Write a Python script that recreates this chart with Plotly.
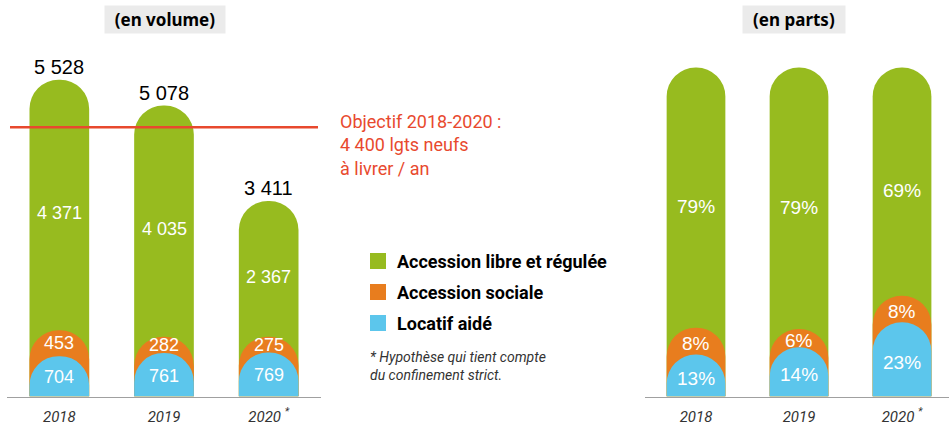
import plotly.graph_objects as go

# données (logements livrés)
annees = ["2018", "2019", "2020 <sup>*</sup>"]
locatif_aide = [704, 761, 769]
accession_sociale = [453, 282, 275]
accession_libre = [4371, 4035, 2367]

# parts affichées (en %)
parts_locatif = ["13%", "14%", "23%"]
parts_sociale = ["8%", "6%", "8%"]
parts_libre = ["79%", "79%", "69%"]

objectif_ligne = 4700  # position de la ligne rouge telle que dessinée

VERT = "#97BB1F"
ORANGE = "#E87D1E"
BLEU = "#5CC6EC"
ROUGE = "#E8492E"

NARROW = "Roboto, sans-serif"
ARIAL = "Liberation Sans, Arial, sans-serif"


def esp(v):
    return f"{v:,}".replace(",", " ")


totaux = [a + b + c for a, b, c in zip(locatif_aide, accession_sociale, accession_libre)]
cum_sociale = [a + b for a, b in zip(locatif_aide, accession_sociale)]

# parts calculées pour la hauteur des barres de droite
p_loc = [a / t * 100 for a, t in zip(locatif_aide, totaux)]
p_soc = [(a + b) / t * 100 for a, b, t in zip(locatif_aide, accession_sociale, totaux)]
p_tot = [100, 100, 100]

fig = go.Figure()

# une paire d'axes par couleur pour que chaque barre garde son arrondi
for axes, ya, vals in [(["x", "x3", "x4"], "y", [totaux, cum_sociale, locatif_aide]),
                       (["x2", "x5", "x6"], "y2", [p_tot, p_soc, p_loc])]:
    for xa, v, col in zip(axes, vals, [VERT, ORANGE, BLEU]):
        fig.add_trace(go.Bar(x=annees, y=v, xaxis=xa, yaxis=ya,
                             marker=dict(color=col, cornerradius="50%", line_width=0),
                             showlegend=False, hoverinfo="skip"))

annots = []
for i in range(len(annees)):
    # étiquettes volume
    base = [0, locatif_aide[i], cum_sociale[i]]
    vals = [locatif_aide[i], accession_sociale[i], accession_libre[i]]
    for b, v, dy in zip(base, vals, [-1, 0, -8]):
        annots.append(dict(x=i, y=b + v / 2, xref="x", yref="y", text=esp(v), yshift=dy,
                           showarrow=False, font=dict(family=ARIAL, size=18, color="white")))
    annots.append(dict(x=i, y=totaux[i], xref="x", yref="y", text=esp(totaux[i]),
                       yanchor="bottom", showarrow=False,
                       font=dict(family=ARIAL, size=20, color="black")))
    # étiquettes parts
    pb = [0, p_loc[i], p_soc[i]]
    ph = [p_loc[i], p_soc[i] - p_loc[i], 100 - p_soc[i]]
    pl = [parts_locatif[i], parts_sociale[i], parts_libre[i]]
    for b, h, t, dy in zip(pb, ph, pl, [-3, -2, -9]):
        annots.append(dict(x=i, y=b + h / 2, xref="x2", yref="y2", text=t, yshift=dy,
                           showarrow=False, font=dict(family=ARIAL, size=19, color="white")))

# titres des panneaux
for txt, xc, w in [("(en volume)", 165 / 949, 114), ("(en parts)", 794 / 949, 96)]:
    annots.append(dict(x=xc, y=1 - 19.5 / 425, xref="paper", yref="paper", text=f"<b>{txt}</b>",
                       xanchor="center", yanchor="middle", width=w, height=21,
                       showarrow=False, bgcolor="#EBEBEB", borderpad=3,
                       font=dict(family="Noto Sans, sans-serif", size=17, color="black")))

# objectif
annots.append(dict(x=338 / 949, y=1 - 109 / 425, xref="paper", yref="paper", xanchor="left",
                   yanchor="top", align="left", showarrow=False,
                   text="Objectif 2018-2020 :<br>4 400 lgts neufs<br>à livrer / an",
                   font=dict(family=NARROW, size=18, color=ROUGE)))

# légende
shapes = []
leg = [("Accession libre et régulée", VERT, 261), ("Accession sociale", ORANGE, 292),
       ("Locatif aidé", BLEU, 323)]
for txt, col, yc in leg:
    shapes.append(dict(type="rect", xref="paper", yref="paper", x0=370 / 949, x1=386 / 949,
                       y0=1 - (yc + 8) / 425, y1=1 - (yc - 8) / 425, fillcolor=col, line_width=0))
    annots.append(dict(x=395 / 949, y=1 - yc / 425, xref="paper", yref="paper",
                       xanchor="left", yanchor="middle",
                       showarrow=False, text=f"<b>{txt}</b>",
                       font=dict(family=NARROW, size=18, color="black")))

annots.append(dict(x=368 / 949, y=1 - 347 / 425, xref="paper", yref="paper", xanchor="left",
                   yanchor="top", align="left", showarrow=False,
                   text="<i>* Hypothèse qui tient compte<br>du confinement strict.</i>",
                   font=dict(family=NARROW, size=14, color="#333333")))

shapes.append(dict(type="line", xref="paper", yref="y", x0=10 / 949, x1=318 / 949,
                   y0=objectif_ligne, y1=objectif_ligne, line=dict(color=ROUGE, width=2.5)))

axe_x = dict(type="category", showline=True, linecolor="#A0A0A0", linewidth=1.2,
             showgrid=False, zeroline=False, ticks="", ticklabelstandoff=6,
             tickfont=dict(family=NARROW, size=15, color="#333333", style="italic"))
axe_cache = dict(type="category", visible=False, showgrid=False, zeroline=False)
axe_y = dict(showgrid=False, zeroline=False, showticklabels=False, fixedrange=True)

r_gauche = [-0.5, 2.5]
r_droite = [-0.5, 2.456]

fig.update_layout(
    width=949, height=425,
    margin=dict(l=0, r=0, t=0, b=0),
    paper_bgcolor="white", plot_bgcolor="white",
    barmode="overlay", bargap=0.43,
    xaxis=dict(axe_x, domain=[7 / 949, 321 / 949], range=r_gauche),
    xaxis3=dict(axe_cache, overlaying="x", range=r_gauche, anchor="y"),
    xaxis4=dict(axe_cache, overlaying="x", range=r_gauche, anchor="y"),
    xaxis2=dict(axe_x, domain=[644.5 / 949, 1], range=r_droite, anchor="y2"),
    xaxis5=dict(axe_cache, overlaying="x2", range=r_droite, anchor="y2"),
    xaxis6=dict(axe_cache, overlaying="x2", range=r_droite, anchor="y2"),
    yaxis=dict(axe_y, domain=[28.5 / 425, 1], range=[0, 6920]),
    yaxis2=dict(axe_y, domain=[28.5 / 425, 1], range=[0, 120.5], anchor="x2"),
    annotations=annots,
    shapes=shapes,
)

fig.write_html("out.html", config={"displayModeBar": False},
               post_script="document.body.style.margin='0';")
